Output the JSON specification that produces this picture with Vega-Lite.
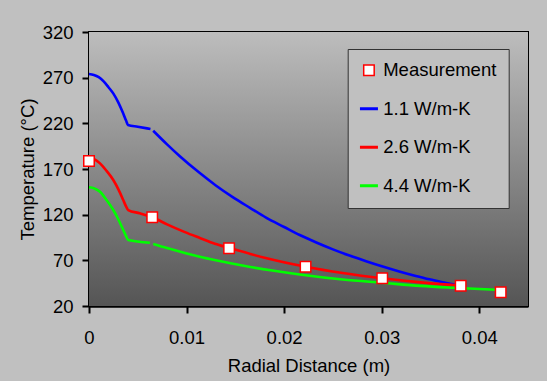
{
  "$schema": "https://vega.github.io/schema/vega-lite/v6.json",
  "width": 439,
  "height": 274,
  "autosize": {"type": "none"},
  "padding": {"left": 89, "top": 32, "right": 19, "bottom": 75},
  "background": "#c0c0c0",
  "config": {
    "view": {"stroke": "black", "strokeWidth": 2},
    "font": "Liberation Sans",
    "axis": {
      "domainColor": "black", "domainWidth": 2.5, "tickColor": "black", "tickWidth": 2, "tickSize": 7,
      "labelFont": "Liberation Sans", "labelFontSize": 18.5, "labelColor": "black",
      "titleFont": "Liberation Sans", "titleFontSize": 18.5, "titleFontWeight": "normal", "titleColor": "black",
      "grid": false, "labelFlush": false, "labelOverlap": false
    },
    "axisX": {"labelPadding": 15, "titleY": 65.7, "titleBaseline": "alphabetic"},
    "axisY": {"labelPadding": 9, "titleX": -55.5, "titleY": 137, "titleBaseline": "alphabetic"}
  },
  "datasets": {
    "curves": [
      {"s": "1.1 W/m-K", "g": "a", "x": 0, "y": 274},
      {"s": "1.1 W/m-K", "g": "a", "x": 0.0005, "y": 273},
      {"s": "1.1 W/m-K", "g": "a", "x": 0.001, "y": 270.5},
      {"s": "1.1 W/m-K", "g": "a", "x": 0.0015, "y": 266},
      {"s": "1.1 W/m-K", "g": "a", "x": 0.002, "y": 259.5},
      {"s": "1.1 W/m-K", "g": "a", "x": 0.0025, "y": 252.5},
      {"s": "1.1 W/m-K", "g": "a", "x": 0.003, "y": 243},
      {"s": "1.1 W/m-K", "g": "a", "x": 0.0035, "y": 231},
      {"s": "1.1 W/m-K", "g": "a", "x": 0.0038, "y": 223},
      {"s": "1.1 W/m-K", "g": "a", "x": 0.004, "y": 218.2},
      {"s": "1.1 W/m-K", "g": "a", "x": 0.005, "y": 216.3},
      {"s": "1.1 W/m-K", "g": "a", "x": 0.0063, "y": 213.8},
      {"s": "1.1 W/m-K", "g": "b", "x": 0.00658, "y": 211.9},
      {"s": "1.1 W/m-K", "g": "b", "x": 0.008, "y": 197},
      {"s": "1.1 W/m-K", "g": "b", "x": 0.00931, "y": 184},
      {"s": "1.1 W/m-K", "g": "b", "x": 0.01136, "y": 165.5},
      {"s": "1.1 W/m-K", "g": "b", "x": 0.013, "y": 152},
      {"s": "1.1 W/m-K", "g": "b", "x": 0.01477, "y": 139},
      {"s": "1.1 W/m-K", "g": "b", "x": 0.0165, "y": 127.5},
      {"s": "1.1 W/m-K", "g": "b", "x": 0.01819, "y": 116.5},
      {"s": "1.1 W/m-K", "g": "b", "x": 0.02, "y": 106.5},
      {"s": "1.1 W/m-K", "g": "b", "x": 0.0216, "y": 97.7},
      {"s": "1.1 W/m-K", "g": "b", "x": 0.0233, "y": 89.5},
      {"s": "1.1 W/m-K", "g": "b", "x": 0.025, "y": 82},
      {"s": "1.1 W/m-K", "g": "b", "x": 0.0267, "y": 75.2},
      {"s": "1.1 W/m-K", "g": "b", "x": 0.0284, "y": 69},
      {"s": "1.1 W/m-K", "g": "b", "x": 0.0301, "y": 63.2},
      {"s": "1.1 W/m-K", "g": "b", "x": 0.0318, "y": 57.8},
      {"s": "1.1 W/m-K", "g": "b", "x": 0.0334, "y": 53.2},
      {"s": "1.1 W/m-K", "g": "b", "x": 0.0349, "y": 49.2},
      {"s": "1.1 W/m-K", "g": "b", "x": 0.0365, "y": 45.5},
      {"s": "1.1 W/m-K", "g": "b", "x": 0.0381, "y": 42},
      {"s": "2.6 W/m-K", "g": "a", "x": 0, "y": 182},
      {"s": "2.6 W/m-K", "g": "a", "x": 0.0005, "y": 181},
      {"s": "2.6 W/m-K", "g": "a", "x": 0.00113, "y": 176.2},
      {"s": "2.6 W/m-K", "g": "a", "x": 0.0018, "y": 168},
      {"s": "2.6 W/m-K", "g": "a", "x": 0.00249, "y": 158},
      {"s": "2.6 W/m-K", "g": "a", "x": 0.003, "y": 148},
      {"s": "2.6 W/m-K", "g": "a", "x": 0.00351, "y": 136},
      {"s": "2.6 W/m-K", "g": "a", "x": 0.0038, "y": 129},
      {"s": "2.6 W/m-K", "g": "a", "x": 0.00402, "y": 125.1},
      {"s": "2.6 W/m-K", "g": "a", "x": 0.0052, "y": 121.5},
      {"s": "2.6 W/m-K", "g": "a", "x": 0.0065, "y": 117.1},
      {"s": "2.6 W/m-K", "g": "a", "x": 0.008, "y": 109.4},
      {"s": "2.6 W/m-K", "g": "a", "x": 0.00983, "y": 100.9},
      {"s": "2.6 W/m-K", "g": "a", "x": 0.01136, "y": 94.5},
      {"s": "2.6 W/m-K", "g": "a", "x": 0.0129, "y": 88.2},
      {"s": "2.6 W/m-K", "g": "a", "x": 0.01436, "y": 83.6},
      {"s": "2.6 W/m-K", "g": "a", "x": 0.018, "y": 72.8},
      {"s": "2.6 W/m-K", "g": "a", "x": 0.0222, "y": 63},
      {"s": "2.6 W/m-K", "g": "a", "x": 0.026, "y": 56.1},
      {"s": "2.6 W/m-K", "g": "a", "x": 0.03006, "y": 50.3},
      {"s": "2.6 W/m-K", "g": "a", "x": 0.034, "y": 45.9},
      {"s": "2.6 W/m-K", "g": "a", "x": 0.0381, "y": 42.4},
      {"s": "4.4 W/m-K", "g": "a", "x": 0, "y": 150},
      {"s": "4.4 W/m-K", "g": "a", "x": 0.0005, "y": 149},
      {"s": "4.4 W/m-K", "g": "a", "x": 0.00113, "y": 145},
      {"s": "4.4 W/m-K", "g": "a", "x": 0.0018, "y": 136},
      {"s": "4.4 W/m-K", "g": "a", "x": 0.00249, "y": 125.1},
      {"s": "4.4 W/m-K", "g": "a", "x": 0.003, "y": 115},
      {"s": "4.4 W/m-K", "g": "a", "x": 0.00351, "y": 103.2},
      {"s": "4.4 W/m-K", "g": "a", "x": 0.0038, "y": 96.5},
      {"s": "4.4 W/m-K", "g": "a", "x": 0.00402, "y": 92.3},
      {"s": "4.4 W/m-K", "g": "a", "x": 0.00624, "y": 89.3},
      {"s": "4.4 W/m-K", "g": "b", "x": 0.00658, "y": 87.9},
      {"s": "4.4 W/m-K", "g": "b", "x": 0.008, "y": 83.4},
      {"s": "4.4 W/m-K", "g": "b", "x": 0.00983, "y": 78.1},
      {"s": "4.4 W/m-K", "g": "b", "x": 0.01136, "y": 74},
      {"s": "4.4 W/m-K", "g": "b", "x": 0.013, "y": 70.1},
      {"s": "4.4 W/m-K", "g": "b", "x": 0.016, "y": 63.8},
      {"s": "4.4 W/m-K", "g": "b", "x": 0.0188, "y": 58.8},
      {"s": "4.4 W/m-K", "g": "b", "x": 0.0216, "y": 54.5},
      {"s": "4.4 W/m-K", "g": "b", "x": 0.026, "y": 49},
      {"s": "4.4 W/m-K", "g": "b", "x": 0.0301, "y": 45.4},
      {"s": "4.4 W/m-K", "g": "b", "x": 0.034, "y": 42},
      {"s": "4.4 W/m-K", "g": "b", "x": 0.0373, "y": 40},
      {"s": "4.4 W/m-K", "g": "b", "x": 0.0417, "y": 37.8}
    ],
    "meas": [
      {"s": "Measurement", "x": 0, "y": 178.8},
      {"s": "Measurement", "x": 0.00648, "y": 117.1},
      {"s": "Measurement", "x": 0.01436, "y": 83.2},
      {"s": "Measurement", "x": 0.0222, "y": 63},
      {"s": "Measurement", "x": 0.03006, "y": 50.3},
      {"s": "Measurement", "x": 0.0381, "y": 42.2},
      {"s": "Measurement", "x": 0.0422, "y": 35}
    ]
  },
  "layer": [
    {
      "data": {"values": [{"a": 1}]},
      "mark": {"type": "rect", "color": {"gradient": "linear", "x1": 0, "y1": 0, "x2": 0, "y2": 1, "stops": [{"offset": 0, "color": "#bdbdbd"}, {"offset": 1, "color": "#555555"}]}},
      "encoding": {
        "x": {"datum": 0, "type": "quantitative", "title": "Radial Distance (m)"},
        "x2": {"datum": 0.045},
        "y": {"datum": 20, "type": "quantitative", "title": "Temperature (°C)"},
        "y2": {"datum": 320}
      }
    },
    {
      "data": {"name": "curves"},
      "mark": {"type": "line", "strokeWidth": 2.6, "interpolate": "monotone"},
      "encoding": {
        "x": {"field": "x", "type": "quantitative", "title": "Radial Distance (m)",
              "scale": {"domain": [0, 0.045], "nice": false},
              "axis": {"values": [0, 0.01, 0.02, 0.03, 0.04], "format": ".2~f"}},
        "y": {"field": "y", "type": "quantitative", "title": "Temperature (°C)",
              "scale": {"domain": [20, 320], "nice": false, "zero": false},
              "axis": {"values": [20, 70, 120, 170, 220, 270, 320]}},
        "detail": {"field": "g"},
        "stroke": {
          "field": "s", "type": "nominal",
          "scale": {"domain": ["Measurement", "1.1 W/m-K", "2.6 W/m-K", "4.4 W/m-K"], "range": ["#ff0000", "#0000ff", "#ff0000", "#00ff00"]},
          "legend": {
            "title": null, "orient": "none", "legendX": 258.7, "legendY": 17,
            "fillColor": "#c0c0c0", "strokeColor": "#333333", "padding": 12, "rowPadding": 19.5,
            "labelFont": "Liberation Sans", "labelFontSize": 18.5, "labelColor": "black", "labelLimit": 300,
            "labelOffset": 5, "symbolSize": 324, "symbolStrokeWidth": 3,
            "encode": {"symbols": {"update": {
              "size": {"signal": "datum.value === 'Measurement' ? 110 : 324"},
              "strokeWidth": {"signal": "datum.value === 'Measurement' ? 1.5 : 3"},
              "fill": {"value": "white"},
              "opacity": {"value": 1}
            }}}
          }
        }
      }
    },
    {
      "data": {"name": "meas"},
      "mark": {"type": "point", "shape": "square", "filled": true, "fill": "white", "size": 110, "strokeWidth": 1.5, "opacity": 1},
      "encoding": {
        "x": {"field": "x", "type": "quantitative", "title": "Radial Distance (m)"},
        "y": {"field": "y", "type": "quantitative", "title": "Temperature (°C)"},
        "stroke": {"field": "s", "type": "nominal"},
        "shape": {
          "field": "s", "type": "nominal",
          "scale": {"domain": ["Measurement", "1.1 W/m-K", "2.6 W/m-K", "4.4 W/m-K"], "range": ["square", "stroke", "stroke", "stroke"]}
        }
      }
    }
  ]
}
